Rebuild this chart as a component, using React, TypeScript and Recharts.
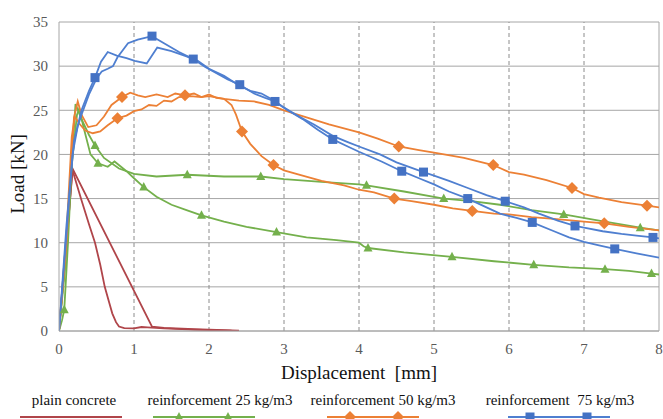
import React from 'react';
import { ComposedChart, Line, Scatter, XAxis, YAxis, CartesianGrid, ReferenceLine } from 'recharts';

type Pt = { x: number; y: number };
const pts = (rows: number[][]): Pt[] => rows.map(([x, y]) => ({ x, y }));

const xTicks = [0, 1, 2, 3, 4, 5, 6, 7, 8];
const yTicks = [0, 5, 10, 15, 20, 25, 30, 35];

// plain concrete (two specimens)
const plainA = pts([[0, 0], [0.1, 10], [0.18, 18.4], [1.24, 0.5], [1.4, 0.35], [1.8, 0.2], [2.4, 0.05]]);
const plainB = pts([
  [0, 0], [0.1, 10], [0.18, 18.2], [0.3, 14.8], [0.4, 12.1], [0.48, 10], [0.55, 7.5], [0.61, 5],
  [0.67, 3.2], [0.71, 2.0], [0.76, 1.0], [0.8, 0.5], [0.87, 0.32], [1.0, 0.3], [1.1, 0.45], [1.18, 0.4],
  [1.4, 0.3], [1.8, 0.15], [2.3, 0.05],
]);

// reinforcement 25 kg/m3
const r25a = pts([
  [0, 0], [0.04, 1.2], [0.07, 2.4], [0.12, 10], [0.17, 19], [0.22, 25.7], [0.3, 24.0], [0.4, 22.2],
  [0.48, 21.0], [0.6, 19.6], [0.8, 18.4], [1.0, 17.8], [1.3, 17.5], [1.71, 17.7], [2.2, 17.5],
  [2.69, 17.5], [3.0, 17.2], [3.5, 16.9], [4.0, 16.6], [4.1, 16.5], [4.6, 15.8], [5.13, 15.0],
  [5.5, 14.7], [5.88, 14.3], [6.3, 13.7], [6.73, 13.2], [7.2, 12.5], [7.75, 11.7], [8, 11.4],
]);
const r25b = pts([
  [0, 0], [0.08, 7], [0.16, 18], [0.24, 24.5], [0.27, 25.2], [0.33, 23.0], [0.42, 20.0], [0.52, 19.0],
  [0.65, 18.6], [0.74, 19.2], [0.9, 18.1], [1.0, 17.3], [1.13, 16.3], [1.3, 15.2], [1.5, 14.3],
  [1.7, 13.7], [1.9, 13.1], [2.2, 12.4], [2.5, 11.8], [2.9, 11.2], [3.3, 10.6], [3.7, 10.3],
  [4.0, 10.0], [4.06, 9.6], [4.12, 9.4], [4.6, 8.9], [5.24, 8.4], [5.8, 7.9], [6.33, 7.5],
  [6.8, 7.2], [7.28, 7.0], [7.6, 6.8], [7.9, 6.5], [8, 6.4],
]);
const r25marks = pts([
  [0.07, 2.4], [0.48, 21.0], [0.52, 19.0], [1.13, 16.3], [1.71, 17.7], [1.9, 13.1], [2.69, 17.5],
  [2.9, 11.2], [4.1, 16.5], [4.12, 9.4], [5.13, 15.0], [5.24, 8.4], [6.33, 7.5], [6.73, 13.2],
  [7.28, 7.0], [7.75, 11.7], [7.9, 6.5],
]);

// reinforcement 50 kg/m3
const r50a = pts([
  [0, 0], [0.1, 10], [0.17, 20], [0.2, 24.2], [0.25, 26], [0.3, 24.5], [0.39, 23.1], [0.5, 23.3],
  [0.6, 24.3], [0.7, 25.6], [0.84, 26.5], [0.95, 27.0], [1.05, 26.7], [1.15, 26.5], [1.3, 26.8],
  [1.45, 26.5], [1.55, 26.9], [1.68, 26.7], [1.8, 26.9], [1.9, 26.5], [2.0, 26.8], [2.1, 26.4],
  [2.2, 26.3], [2.3, 25.6], [2.36, 24.5], [2.44, 22.6], [2.55, 21.2], [2.7, 19.8], [2.86, 18.8],
  [3.0, 18.2], [3.2, 17.7], [3.5, 17.0], [3.8, 16.5], [4.0, 16.0], [4.2, 15.7], [4.47, 15.0],
  [4.7, 14.7], [5.0, 14.3], [5.25, 13.9], [5.51, 13.6], [5.8, 13.3], [6.0, 13.2], [6.3, 12.9],
  [6.6, 12.7], [7.0, 12.4], [7.27, 12.2], [7.6, 11.8], [8, 11.4],
]);
const r50b = pts([
  [0, 0], [0.1, 11], [0.17, 22], [0.21, 24.3], [0.27, 23.5], [0.35, 22.7], [0.45, 22.4], [0.55, 22.6],
  [0.65, 23.3], [0.78, 24.1], [0.9, 24.4], [1.0, 24.9], [1.1, 25.1], [1.2, 25.6], [1.3, 25.5],
  [1.4, 26.1], [1.5, 26.0], [1.6, 26.5], [1.75, 26.6], [1.9, 26.5], [2.0, 26.6], [2.2, 26.3],
  [2.4, 26.1], [2.6, 26.0], [2.8, 25.6], [3.0, 25.0], [3.3, 24.2], [3.6, 23.4], [4.0, 22.5],
  [4.25, 21.8], [4.53, 20.9], [4.8, 20.5], [5.0, 20.2], [5.4, 19.6], [5.79, 18.8], [6.0, 18.0],
  [6.2, 17.7], [6.5, 17.1], [6.84, 16.2], [7.0, 15.5], [7.2, 15.1], [7.5, 14.6], [7.84, 14.2], [8, 14.0],
]);
const r50marks = pts([
  [0.78, 24.1], [0.84, 26.5], [1.68, 26.7], [2.44, 22.6], [2.86, 18.8], [4.47, 15.0], [4.53, 20.9],
  [5.51, 13.6], [5.79, 18.8], [6.84, 16.2], [7.27, 12.2], [7.84, 14.2],
]);

// reinforcement 75 kg/m3
const r75a = pts([
  [0, 0], [0.1, 11], [0.18, 20], [0.25, 23.2], [0.3, 24.5], [0.4, 26.8], [0.5, 28.6], [0.57, 29.4],
  [0.65, 29.7], [0.72, 30.0], [0.78, 31.0], [0.85, 31.8], [0.92, 32.6], [1.05, 33.0], [1.24, 33.4],
  [1.4, 32.6], [1.6, 31.6], [1.79, 30.8], [1.95, 29.9], [2.1, 29.2], [2.25, 28.5], [2.41, 27.9],
  [2.6, 26.9], [2.75, 26.4], [2.88, 26.0], [3.05, 25.0], [3.25, 24.0], [3.45, 22.8], [3.65, 21.7],
  [3.85, 20.9], [4.0, 20.3], [4.3, 19.2], [4.57, 18.1], [4.8, 17.3], [5.0, 16.6], [5.2, 15.8],
  [5.45, 15.0], [5.7, 14.0], [5.88, 13.3], [6.1, 12.8], [6.31, 12.3], [6.6, 11.3], [6.8, 10.6],
  [7.0, 10.1], [7.2, 9.7], [7.41, 9.3], [7.7, 8.8], [8, 8.3],
]);
const r75b = pts([
  [0, 0], [0.1, 12], [0.2, 21.5], [0.3, 25.0], [0.4, 27.2], [0.48, 28.7], [0.56, 30.5], [0.65, 31.6],
  [0.77, 31.2], [0.9, 30.9], [1.01, 30.6], [1.17, 30.3], [1.24, 31.2], [1.31, 32.1], [1.5, 31.7],
  [1.7, 31.1], [1.85, 30.6], [2.0, 29.7], [2.2, 28.9], [2.4, 27.8], [2.55, 27.2], [2.7, 26.9],
  [2.85, 26.2], [3.0, 25.3], [3.2, 24.3], [3.4, 23.4], [3.65, 22.1], [3.85, 21.4], [4.0, 20.9],
  [4.28, 20.0], [4.5, 19.1], [4.86, 18.0], [5.0, 17.6], [5.2, 17.0], [5.45, 16.2], [5.7, 15.4],
  [5.95, 14.7], [6.2, 14.0], [6.4, 13.3], [6.65, 12.5], [6.88, 11.9], [7.0, 11.7], [7.25, 11.3],
  [7.5, 11.0], [7.7, 10.8], [7.92, 10.6], [8, 10.5],
]);
const r75marks = pts([
  [0.48, 28.7], [1.24, 33.4], [1.79, 30.8], [2.41, 27.9], [2.88, 26.0], [3.65, 21.7], [4.57, 18.1],
  [4.86, 18.0], [5.45, 15.0], [5.95, 14.7], [6.31, 12.3], [6.88, 11.9], [7.41, 9.3], [7.92, 10.6],
]);

const RED = '#b0454a';
const GREEN = '#74b04c';
const ORANGE = '#ec8035';
const BLUE = '#4f7fd0';
const GRID = '#a6a6a6';
const FONT = 'Liberation Serif, Tinos, DejaVu Serif, serif';

const Triangle = (p: any) => (
  <polygon points={`${p.cx},${p.cy - 5} ${p.cx + 4.5},${p.cy + 3.5} ${p.cx - 4.5},${p.cy + 3.5}`} fill={GREEN} />
);
const Diamond = (p: any) => (
  <polygon points={`${p.cx},${p.cy - 6} ${p.cx + 6},${p.cy} ${p.cx},${p.cy + 6} ${p.cx - 6},${p.cy}`} fill={ORANGE} />
);
const Square = (p: any) => <rect x={p.cx - 4.5} y={p.cy - 4.5} width={9} height={9} fill="#4472c4" />;

const legendItems = [
  { label: 'plain concrete', color: RED, textX: 74, x1: 20, x2: 122, marks: [] as number[], shape: null as any },
  { label: 'reinforcement 25 kg/m3', color: GREEN, textX: 220, x1: 153, x2: 255, marks: [179, 228], shape: Triangle },
  { label: 'reinforcement 50 kg/m3', color: ORANGE, textX: 383, x1: 327, x2: 419, marks: [350, 398], shape: Diamond },
  { label: 'reinforcement  75 kg/m3', color: BLUE, textX: 560, x1: 508, x2: 610, marks: [530, 587], shape: Square },
];

const lineProps = { type: 'linear' as const, dataKey: 'y', dot: false, strokeWidth: 1.8, isAnimationActive: false };

export default function App() {
  return (
    <div style={{ position: 'absolute', left: 0, top: 0, width: 663, height: 419, background: '#fff', overflow: 'hidden', fontFamily: FONT }}>
      <ComposedChart width={663} height={360} margin={{ top: 22, right: 4, bottom: 0, left: 0 }}>
        <CartesianGrid horizontal={true} vertical={false} stroke={GRID} strokeWidth={1} />
        <XAxis
          type="number"
          dataKey="x"
          domain={[0, 8]}
          ticks={xTicks}
          allowDataOverflow
          height={29}
          tickLine={false}
          tickSize={0}
          tickMargin={12}
          axisLine={{ stroke: GRID }}
          tick={{ fill: '#595959', fontSize: 15, fontFamily: FONT }}
        />
        <YAxis
          type="number"
          domain={[0, 35]}
          ticks={yTicks}
          allowDataOverflow
          width={59}
          tickLine={false}
          tickSize={0}
          tickMargin={11}
          axisLine={{ stroke: GRID }}
          tick={{ fill: '#595959', fontSize: 15, fontFamily: FONT }}
        />
        {xTicks.slice(1, -1).map((t) => (
          <ReferenceLine key={t} x={t} stroke="#8c8c8c" strokeDasharray="4 3" />
        ))}
        <ReferenceLine x={8} stroke={GRID} />
        <Line data={plainA} stroke={RED} {...lineProps} />
        <Line data={plainB} stroke={RED} {...lineProps} />
        <Line data={r25a} stroke={GREEN} {...lineProps} />
        <Line data={r25b} stroke={GREEN} {...lineProps} />
        <Scatter data={r25marks} dataKey="y" shape={Triangle} isAnimationActive={false} />
        <Line data={r50a} stroke={ORANGE} {...lineProps} />
        <Line data={r50b} stroke={ORANGE} {...lineProps} />
        <Scatter data={r50marks} dataKey="y" shape={Diamond} isAnimationActive={false} />
        <Line data={r75a} stroke={BLUE} {...lineProps} />
        <Line data={r75b} stroke={BLUE} {...lineProps} />
        <Scatter data={r75marks} dataKey="y" shape={Square} isAnimationActive={false} />
      </ComposedChart>

      <div
        style={{
          position: 'absolute', left: 18, top: 174, fontSize: 19, whiteSpace: 'nowrap', color: '#111',
          transform: 'translate(-50%, -50%) rotate(-90deg)',
        }}
      >
        Load [kN]
      </div>
      <div
        style={{
          position: 'absolute', left: 359, top: 373, fontSize: 19, whiteSpace: 'pre', color: '#111',
          transform: 'translate(-50%, -50%)',
        }}
      >
        Displacement  [mm]
      </div>

      <svg width={663} height={40} style={{ position: 'absolute', left: 0, top: 385 }}>
        {legendItems.map((it) => (
          <g key={it.label}>
            <text x={it.textX} y={20} textAnchor="middle" fontSize={15} fontFamily={FONT} fill="#111" style={{ whiteSpace: 'pre' }}>
              {it.label}
            </text>
            <line x1={it.x1} x2={it.x2} y1={32} y2={32} stroke={it.color} strokeWidth={2} />
            {it.shape && it.marks.map((m) => <it.shape key={m} cx={m} cy={32} />)}
          </g>
        ))}
      </svg>
    </div>
  );
}
